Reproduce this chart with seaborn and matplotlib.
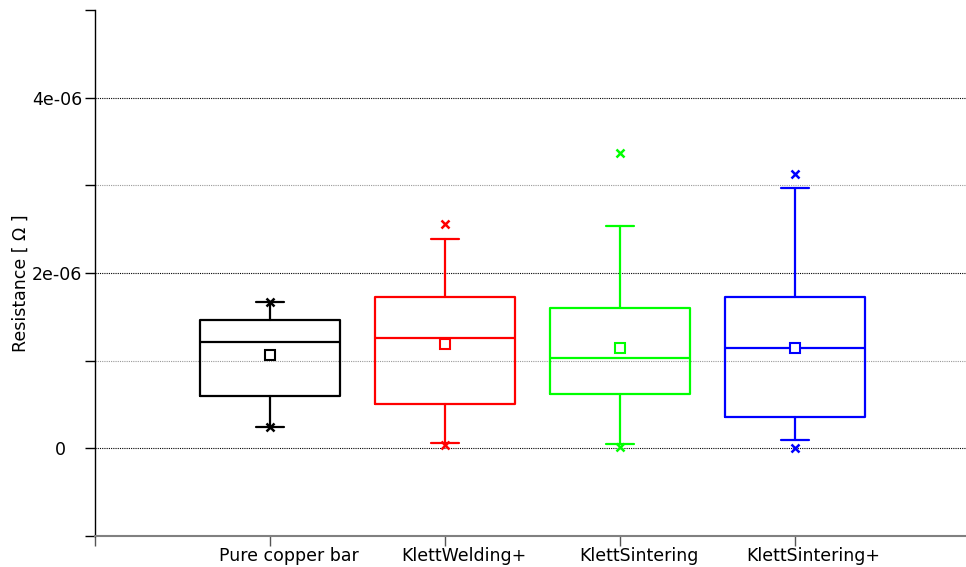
import numpy as np
import pandas as pd
import matplotlib
matplotlib.use("Agg")
import matplotlib.pyplot as plt
import matplotlib.transforms as mtransforms
import seaborn as sns
from matplotlib.ticker import FixedLocator, FixedFormatter

# box statistics (Ohm)
groups = ['Pure copper bar', 'KlettWelding+', 'KlettSintering', 'KlettSintering+']
colors = ['#000000', '#ff0000', '#00ff00', '#0000ff']
q1 = [0.594e-6, 0.503e-6, 0.617e-6, 0.354e-6]
median = [1.211e-6, 1.257e-6, 1.029e-6, 1.143e-6]
q3 = [1.463e-6, 1.726e-6, 1.600e-6, 1.726e-6]
whislo = [0.240e-6, 0.057e-6, 0.046e-6, 0.091e-6]
whishi = [1.669e-6, 2.389e-6, 2.537e-6, 2.971e-6]
mean = [1.063e-6, 1.189e-6, 1.143e-6, 1.143e-6]
minimum = [0.240e-6, 0.034e-6, 0.011e-6, 0.000e-6]
maximum = [1.669e-6, 2.560e-6, 3.371e-6, 3.131e-6]


def generate_plot():
    df = pd.DataFrame({'group': groups, 'q1': q1, 'med': median, 'q3': q3,
                       'whislo': whislo, 'whishi': whishi, 'mean': mean,
                       'min': minimum, 'max': maximum})
    df['pos'] = np.arange(len(df))

    sns.set_style("white")
    plt.rcParams['font.family'] = ['DejaVu Sans']

    fig = plt.figure(figsize=(9.66, 5.67), dpi=100)
    ax = fig.add_axes([0.0983, 0.0547, 0.9017, 0.9277])

    # grid lines
    for v in [0, 2e-6, 4e-6]:
        ax.axhline(v, color='black', lw=0.8, ls=(0, (1, 1)), zorder=0)
    for v in [1e-6, 3e-6]:
        ax.axhline(v, color='#999999', lw=0.8, ls=(0, (1, 1)), zorder=0)

    for _, r in df.iterrows():
        c = colors[int(r['pos'])]
        stats = [dict(q1=r['q1'], med=r['med'], q3=r['q3'],
                      whislo=r['whislo'], whishi=r['whishi'], fliers=[])]
        ax.bxp(stats, positions=[r['pos']], widths=0.8, capwidths=0.16,
               manage_ticks=False,
               boxprops=dict(color=c, lw=1.6),
               medianprops=dict(color=c, lw=1.6),
               whiskerprops=dict(color=c, lw=1.6),
               capprops=dict(color=c, lw=1.6))
        ax.plot([r['pos']] * 2, [r['min'], r['max']], ls='none', marker='x',
                ms=6, mew=1.8, color=c, zorder=4)
        ax.plot(r['pos'], r['mean'], ls='none', marker='s', ms=6.5, mew=1.5,
                mfc='white', mec=c, zorder=4)

    ax.set_xlim(-1, 3.98)
    ax.set_ylim(-1e-6, 5e-6)

    ax.set_xticks([-1, 0, 1, 2, 3])
    ax.set_xticklabels([''] + groups, fontsize=12.5, color='black')
    ax.yaxis.set_major_locator(FixedLocator([-1e-6, 0, 1e-6, 2e-6, 3e-6, 4e-6, 5e-6]))
    ax.yaxis.set_major_formatter(FixedFormatter(['', '0   ', '', '2e-06', '', '4e-06', '']))
    ax.tick_params(axis='y', length=7, width=1, color='black', labelsize=12.5,
                   labelcolor='black', pad=2, left=True)
    ax.tick_params(axis='x', length=7, width=1, color='#555555', labelsize=12.5,
                   labelcolor='black', pad=1, bottom=True)

    # category labels sit a little right of their ticks in the original
    shift = mtransforms.ScaledTranslation(19 / 100, 0, fig.dpi_scale_trans)
    for lab in ax.get_xticklabels():
        lab.set_transform(lab.get_transform() + shift)

    ax.set_ylabel('Resistance [ \u03a9 ]', fontsize=12.5, color='black', labelpad=2)
    ax.yaxis.set_label_coords(-0.075, 0.48)

    sns.despine(ax=ax, top=True, right=True)
    ax.spines['left'].set_color('black')
    ax.spines['left'].set_linewidth(1)
    ax.spines['bottom'].set_color('#808080')
    ax.spines['bottom'].set_linewidth(1.5)

    fig.savefig('out.png', dpi=100)
    plt.close(fig)


if __name__ == "__main__":
    generate_plot()
